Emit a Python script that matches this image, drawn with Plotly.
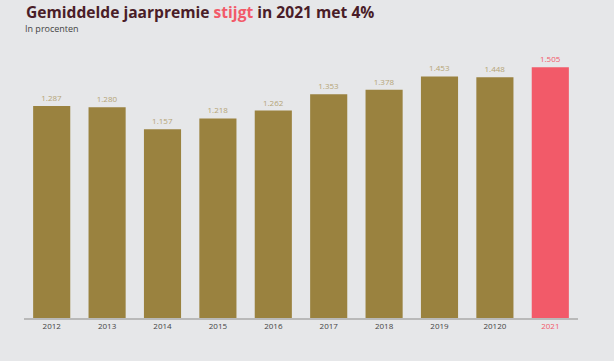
import plotly.graph_objects as go

years = ["2012", "2013", "2014", "2015", "2016", "2017", "2018", "2019", "20120", "2021"]
values = [1287, 1280, 1157, 1218, 1262, 1353, 1378, 1453, 1448, 1505]

GOLD = "#9a823f"
RED = "#f25a69"
LABEL_GOLD = "#b5a476"
BG = "#e6e7e9"

bar_colors = [GOLD] * (len(values) - 1) + [RED]
label_colors = [LABEL_GOLD] * (len(values) - 1) + [RED]
texts = [f"{v:,}".replace(",", ".") for v in values]
tick_text = [y if i < len(years) - 1 else f"<span style='color:{RED}'>{y}</span>"
             for i, y in enumerate(years)]

fig = go.Figure(go.Bar(
    x=years, y=values,
    marker=dict(color=bar_colors, line=dict(width=0)),
    text=texts, textposition="outside", cliponaxis=False,
    textfont=dict(size=8, color=label_colors, family="Open Sans"),
    width=0.67, hoverinfo="skip",
))

fig.update_layout(
    width=614, height=361,
    margin=dict(l=24, r=36, t=40, b=43),
    paper_bgcolor=BG, plot_bgcolor=BG,
    showlegend=False,
    xaxis=dict(
        type="category", tickmode="array", tickvals=years, ticktext=tick_text,
        showline=True, linecolor="#b9b9b9", linewidth=1.5,
        ticks="", showgrid=False,
        tickfont=dict(size=8, color="#444444", family="Open Sans"),
    ),
    yaxis=dict(range=[100, 1657], visible=False, showgrid=False, zeroline=False),
    annotations=[
        dict(text="<b>Gemiddelde jaarpremie <span style='color:%s'>stijgt</span> in 2021 met 4%%</b>" % RED,
             xref="paper", yref="paper", x=0, y=1.1007, xanchor="left", yanchor="middle",
             xshift=0, showarrow=False,
             font=dict(size=15.6, color="#4a1d28", family="Open Sans")),
        dict(text="In procenten",
             xref="paper", yref="paper", x=0, y=1.0396, xanchor="left", yanchor="middle",
             xshift=-1, showarrow=False,
             font=dict(size=9, color="#444444", family="Open Sans")),
    ],
)

fig.write_html(
    "out.html",
    config={"displayModeBar": False},
    post_script="document.body.style.margin='0';document.body.style.overflow='hidden';"
                "document.body.style.background='%s';" % BG,
)
